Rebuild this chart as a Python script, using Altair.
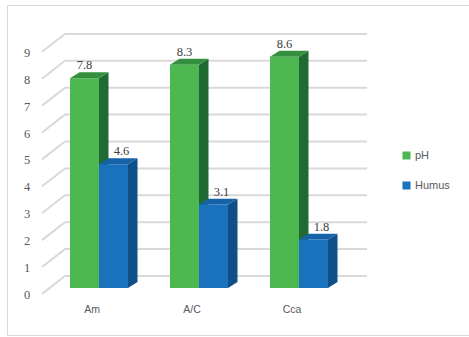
import altair as alt
import pandas as pd

# ---- data ----
CATEGORIES = ["Am", "A/C", "Cca"]
SERIES = ["pH", "Humus"]
PH = [7.8, 8.3, 8.6]
HUMUS = [4.6, 3.1, 1.8]
Y_TICKS = [0, 1, 2, 3, 4, 5, 6, 7, 8, 9]

# ---- style / geometry constants (3D look) ----
FRONT = {"pH": "#4cb84f", "Humus": "#1b72bc"}
SIDE = {"pH": "#1f6b33", "Humus": "#0e4f87"}
TOP = {"pH": "#34903f", "Humus": "#1562a9"}
SERIF = "Liberation Serif"
SANS = "Liberation Sans"
BAR_W = 0.29       # bar width in category units
DX, DV = 0.095, 0.22   # bar depth (x in category units, y in value units)
X_DOM = [-0.99, 3.70]
Y_DOM = [-1.822, 10.706]
GRID_FRONT_X, GRID_BACK_X, GRID_END_X = -0.57, -0.34, 2.68
GRID_FRONT_DY, GRID_BACK_DY = -0.22, 0.446
W, H = 469, 337

values = {"pH": PH, "Humus": HUMUS}

xs = alt.Scale(domain=X_DOM, nice=False, zero=False)
ys = alt.Scale(domain=Y_DOM, nice=False, zero=False)

def X(f):
    return alt.X(f, type="quantitative", scale=xs, axis=None)

def Y(f):
    return alt.Y(f, type="quantitative", scale=ys, axis=None, stack=None)

layers = []

# gridlines: back wall + diagonal floor lines
g_rows = []
for v in Y_TICKS:
    g_rows.append({"v": v, "p": 0, "x": GRID_FRONT_X, "y": v + GRID_FRONT_DY})
    g_rows.append({"v": v, "p": 1, "x": GRID_BACK_X, "y": v + GRID_BACK_DY})
    g_rows.append({"v": v, "p": 2, "x": GRID_END_X, "y": v + GRID_BACK_DY})
grid = alt.Chart(pd.DataFrame(g_rows)).mark_line(color="#d9d9d9", strokeWidth=2).encode(
    x=X("x"), y=Y("y"), detail="v:N", order="p:Q")
layers.append(grid)

# y tick labels
tick_df = pd.DataFrame({"v": Y_TICKS, "x": [-0.72] * len(Y_TICKS)})
tick_df["y"] = tick_df["v"] - 0.26
ticks = alt.Chart(tick_df).mark_text(font=SERIF, fontSize=12.5, color="#595959",
                                     align="center", baseline="middle").encode(
    x=X("x"), y=Y("y"), text="v:Q")
layers.append(ticks)

# category labels
cat_df = pd.DataFrame({"cat": CATEGORIES, "x": [i - 0.07 for i in range(len(CATEGORIES))],
                       "y": [-0.82] * len(CATEGORIES)})
cats = alt.Chart(cat_df).mark_text(font=SANS, fontSize=10.5, color="#595959",
                                   align="center", baseline="middle").encode(
    x=X("x"), y=Y("y"), text="cat:N")
layers.append(cats)

for si, s in enumerate(SERIES):
    vals = values[s]
    front_rows, side_rows, top_rows = [], [], []
    for i, (c, v) in enumerate(zip(CATEGORIES, vals)):
        x0 = i - BAR_W if si == 0 else i
        x1 = x0 + BAR_W
        front_rows.append({"series": s, "cat": c, "x0": x0, "x1": x1, "v": v,
                           "xc": (x0 + x1) / 2, "vt": v + DV})
        side_rows += [
            {"k": c, "x": x1, "y": 0.0, "y2": v},
            {"k": c, "x": x1 + DX, "y": DV, "y2": v + DV},
        ]
        top_rows += [
            {"k": c, "x": x0, "y": v, "y2": v},
            {"k": c, "x": x0 + DX, "y": v, "y2": v + DV},
            {"k": c, "x": x1, "y": v, "y2": v + DV},
            {"k": c, "x": x1 + DX, "y": v + DV, "y2": v + DV},
        ]
    fdf = pd.DataFrame(front_rows)
    front = alt.Chart(fdf).mark_bar().encode(
        x=X("x0"), x2="x1:Q", y=alt.Y("v:Q", scale=ys, axis=None, stack=None),
        y2=alt.datum(0),
        color=alt.Color("series:N", scale=alt.Scale(domain=SERIES, range=[FRONT[k] for k in SERIES]),
                        legend=alt.Legend(title=None, orient="none", legendX=401, legendY=150,
                                          symbolType="square", symbolSize=64, symbolStrokeWidth=0,
                                          labelFont=SANS, labelFontSize=11,
                                          labelColor="#595959", rowPadding=18, labelOffset=3)))
    side = alt.Chart(pd.DataFrame(side_rows)).mark_area(color=SIDE[s], interpolate="linear").encode(
        x=X("x"), y=Y("y"), y2="y2:Q", detail="k:N")
    top = alt.Chart(pd.DataFrame(top_rows)).mark_area(color=TOP[s], interpolate="linear").encode(
        x=X("x"), y=Y("y"), y2="y2:Q", detail="k:N")
    lab = alt.Chart(fdf).mark_text(font=SERIF, fontSize=12.5, color="#404040",
                                   align="center", baseline="bottom", dy=0,
                                   dx=0 if si == 0 else 8).encode(
        x=X("xc"), y=Y("vt"), text=alt.Text("v:Q", format=".1f"))
    layers += [front, side, top, lab]

# outer frame
one = alt.Data(values=[{}])
frame_col = "#d9d9d9"
layers.append(alt.Chart(one).mark_rule(color=frame_col, strokeWidth=1).encode(
    x=alt.value(7.5), y=alt.value(5.5), y2=alt.value(335.5)))
layers.append(alt.Chart(one).mark_rule(color=frame_col, strokeWidth=1).encode(
    x=alt.value(7.5), x2=alt.value(W), y=alt.value(5.5)))
layers.append(alt.Chart(one).mark_rule(color=frame_col, strokeWidth=1).encode(
    x=alt.value(7.5), x2=alt.value(W), y=alt.value(335.5)))

chart = alt.layer(*layers).properties(
    width=W, height=H, padding=0, autosize="none", background="white"
).configure_view(stroke=None)

chart.save("out.html", embed_options={"renderer": "svg", "actions": False})
